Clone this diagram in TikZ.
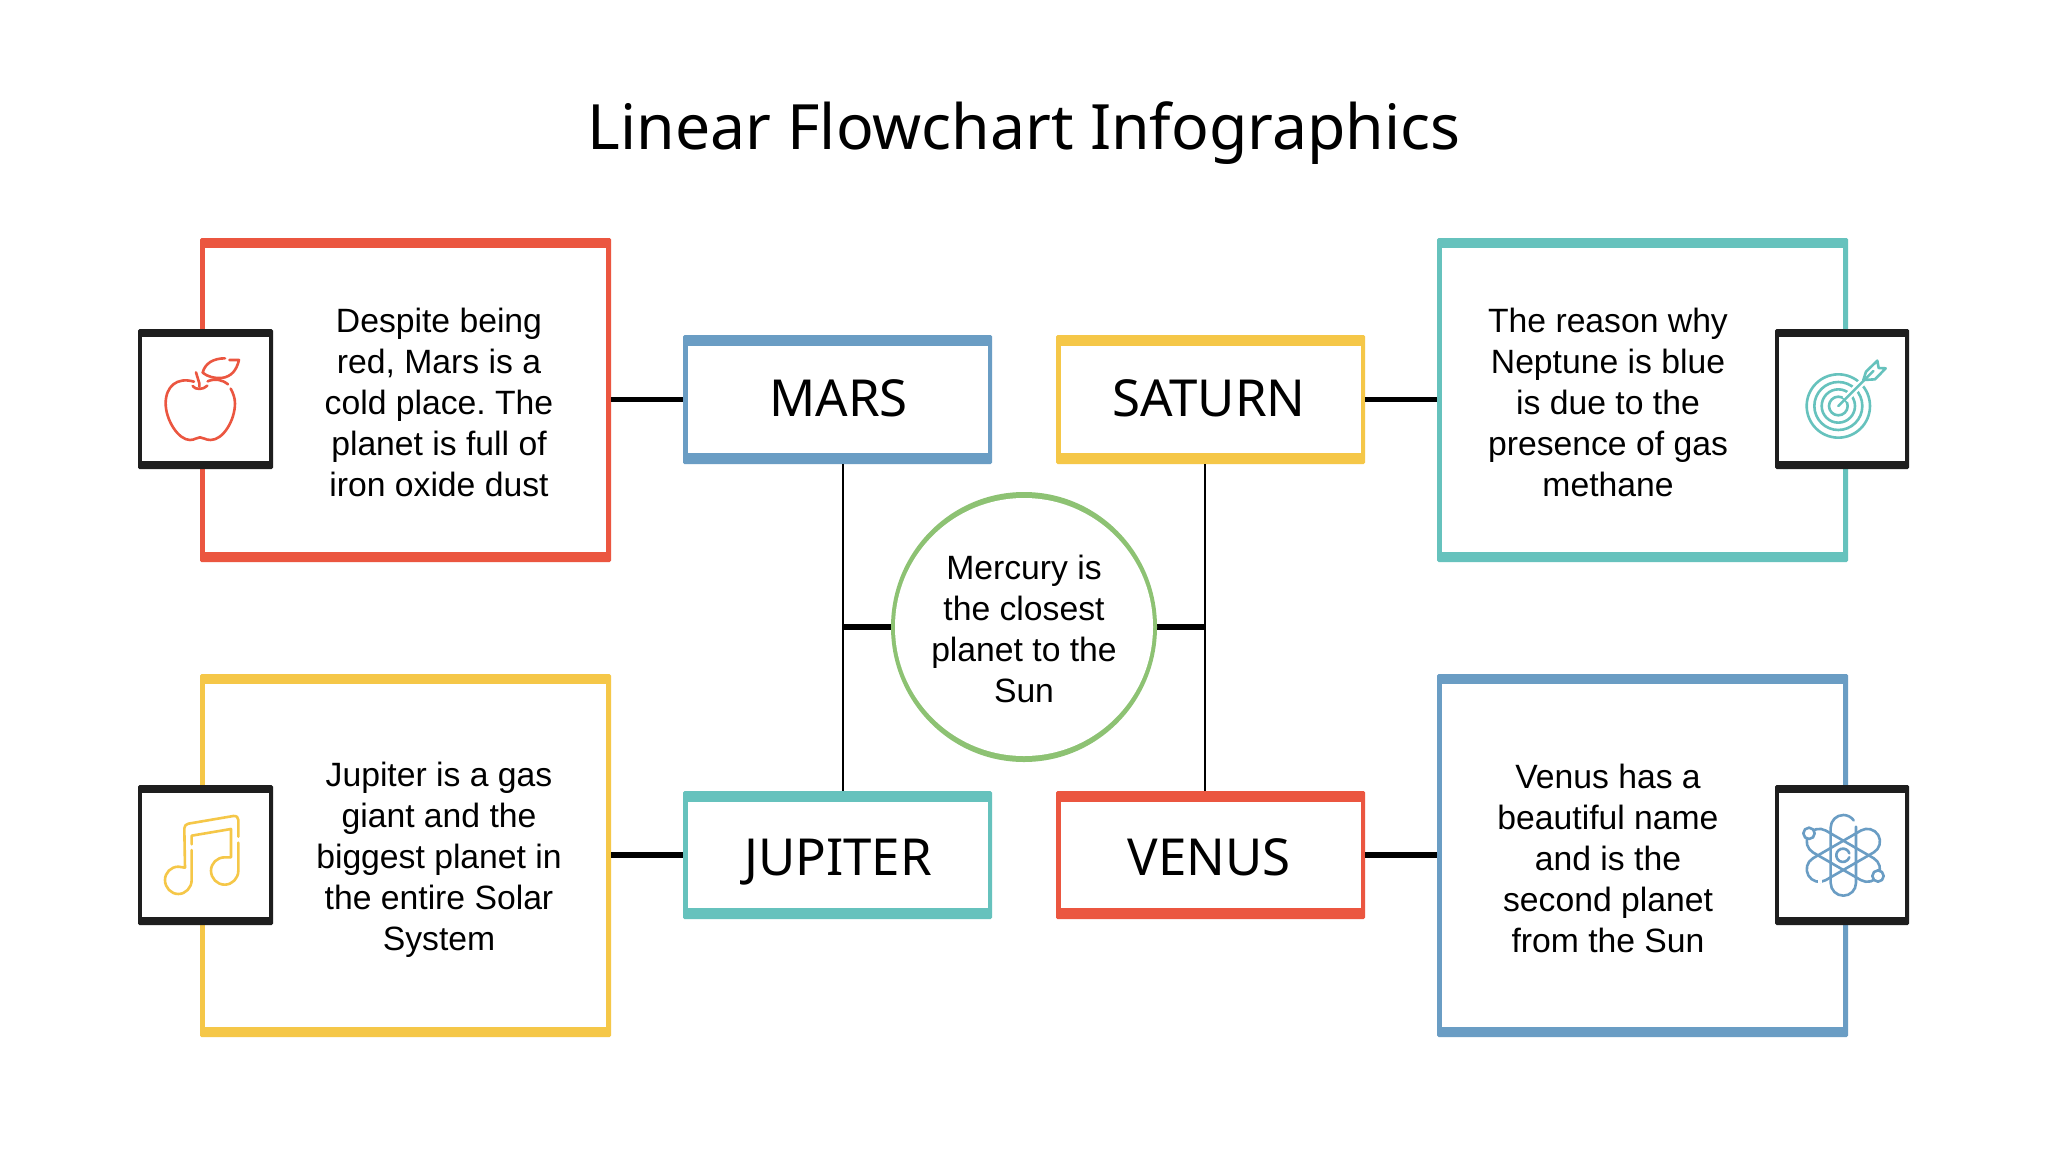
\documentclass[tikz,border=0pt]{standalone}
\usepackage{fontspec}
\setmainfont{Liberation Sans}
\newfontfamily\headfont{Noto Sans}
\definecolor{cred}{HTML}{EB5640}
\definecolor{cblue}{HTML}{6A9DC4}
\definecolor{cyellow}{HTML}{F5C748}
\definecolor{cteal}{HTML}{66C2BD}
\definecolor{cgreen}{HTML}{8DC273}
\definecolor{cdark}{HTML}{1E1E1E}
% name, x0, y0, x1, y1, colour, side thickness, top thickness
\newcommand{\frbox}[8]{%
  \fill[#6,rounded corners=1.5pt] (#2,#3) rectangle (#4,#5);
  \fill[white] (#2+#7,#3+#8) rectangle (#4-#7,#5-#8);
  \node[boxanchor,minimum width=#4pt-#2pt,minimum height=#5pt-#3pt] (#1) at ({(#2+#4)/2},{(#3+#5)/2}) {};
}
\tikzset{
  boxanchor/.style={inner sep=0pt,outer sep=0pt,draw=none},
  body/.style={align=center,font=\frenchspacing\fontsize{33.7}{41}\selectfont,text=black,inner sep=0pt},
  label/.style={font=\headfont\fontsize{51}{60}\selectfont,text=black,inner sep=0pt,anchor=base},
  thin link/.style={line width=2.5pt,black},
  thick link/.style={line width=5.5pt,black},
  icon/.style={line width=2.6pt,line cap=round,line join=round},
  zoomed/.style={x=0.3333pt,y=-0.3333pt},
}
\begin{document}
\begin{tikzpicture}[x=1pt,y=-1pt]
\useasboundingbox (0,0) rectangle (2048,1152);
\fill[white] (0,0) rectangle (2048,1152);
\node[font=\headfont\fontsize{62.5}{74}\selectfont,inner sep=0pt] (title) at (1024,133) {Linear Flowchart Infographics};

\frbox{bigmars}{200}{238}{611}{562}{cred}{5}{10}
\frbox{bigsaturn}{1437}{238}{1848}{562}{cteal}{5}{10}
\frbox{bigjupiter}{200}{674}{611}{1037}{cyellow}{5}{10}
\frbox{bigvenus}{1437}{674}{1848}{1037}{cblue}{5}{10}

\frbox{mars}{683}{335}{992}{464}{cblue}{4.5}{11}
\frbox{saturn}{1056}{335}{1365}{464}{cyellow}{4.5}{11}
\frbox{jupiter}{683}{791}{992}{919}{cteal}{4.5}{11}
\frbox{venus}{1056}{791}{1365}{919}{cred}{4.5}{11}

\frbox{iconmars}{138}{329}{273}{469}{cdark}{4}{8}
\frbox{iconsaturn}{1775}{329}{1909}{469}{cdark}{4}{8}
\frbox{iconjupiter}{138}{785}{273}{925}{cdark}{4}{8}
\frbox{iconvenus}{1775}{785}{1909}{925}{cdark}{4}{8}

\coordinate (leftbus) at (843,627);
\coordinate (rightbus) at (1205,627);
\node[circle,minimum size=258pt,inner sep=0pt,outer sep=0pt] (mercury) at (1024,627) {};
\draw[thin link] (leftbus |- mars.south) -- (leftbus |- jupiter.north);
\draw[thin link] (rightbus |- saturn.south) -- (rightbus |- venus.north);
\draw[thick link] (leftbus) -- (mercury.west);
\draw[thick link] (mercury.east) -- (rightbus);
\draw[thick link] (bigmars.east |- mars.west) -- (mars.west);
\draw[thick link] (saturn.east) -- (bigsaturn.west |- saturn.east);
\draw[thick link] (bigjupiter.east |- jupiter.west) -- (jupiter.west);
\draw[thick link] (venus.east) -- (bigvenus.west |- venus.east);
\fill[cgreen] (1024,627) ellipse [x radius=133,y radius=135];
\fill[white] (mercury.center) circle (129);

\node[label] (lmars) at (838.5,416.7) {MARS};
\node[label] (lsaturn) at (1209,416.7) {SATURN};
\node[label] (ljupiter) at (838,875) {JUPITER};
\node[label] (lvenus) at (1209,875) {VENUS};

\node[body] (tmars) at (439,402) {Despite being\\red, Mars is a\\cold place. The\\planet is full of\\iron oxide dust};
\node[body] (tsaturn) at (1608,402) {The reason why\\Neptune is blue\\is due to the\\presence of gas\\methane};
\node[body] (tjupiter) at (439,859.5) {Jupiter is a gas\\giant and the\\biggest planet in\\the entire Solar\\System};
\node[body] (tvenus) at (1608,858) {Venus has a\\beautiful name\\and is the\\second planet\\from the Sun};
\node[body] (tmercury) at (1024,629) {Mercury is\\the closest\\planet to the\\Sun};

% apple
\begin{scope}[shift={(120,220)},zoomed]
\draw[icon,cred] (222,485) .. controls (170,470) and (137,500) .. (137,550) .. controls (137,600) and (175,660) .. (210,660) .. controls (225,660) and (230,652) .. (240,652) .. controls (250,652) and (255,660) .. (272,660) .. controls (310,660) and (345,600) .. (345,550) .. controls (345,535) and (340,520) .. (332,506);
\draw[icon,cred] (324,493) .. controls (305,478) and (285,475) .. (263,484);
\draw[icon,cred] (228,457) -- (238,490) -- (238,500);
\draw[icon,cred] (218,498) .. controls (225,510) and (250,510) .. (262,497);
\draw[icon,cred] (248,458) .. controls (255,430) and (280,415) .. (315,415);
\draw[icon,cred] (328,420) -- (357,420) .. controls (350,450) and (335,470) .. (305,474) .. controls (285,476) and (262,470) .. (248,458);
\end{scope}
% target
\begin{scope}[shift={(1760,320)},zoomed]
\draw[icon,cteal] (235,258) circle (95);
\draw[icon,cteal] (235,258) circle (72);
\draw[icon,cteal] (235,258) circle (50);
\draw[icon,cteal] (235,258) circle (28);
\draw[line width=7pt,white] (255,238) -- (320,173);
\draw[icon,cteal] (235,258) -- (340,153);
\draw[icon,cteal] (310,180) -- (318,155) -- (352,122) -- (356,144) -- (377,145) -- (345,178) -- cycle;
\end{scope}
% notes
\begin{scope}[shift={(130,780)},zoomed]
\draw[icon,cyellow] (165,263) -- (163,145) .. controls (163,138) and (168,132) .. (175,131) -- (310,108) .. controls (320,107) and (325,112) .. (325,120) -- (325,170);
\draw[icon,cyellow] (325,188) -- (325,272) .. controls (325,295) and (307,314) .. (284,314) .. controls (261,314) and (243,295) .. (243,272) .. controls (243,250) and (261,232) .. (284,232) -- (303,232) -- (303,147) -- (185,167) -- (185,193);
\draw[icon,cyellow] (185,210) -- (185,300) .. controls (185,323) and (167,342) .. (145,342) .. controls (123,342) and (105,323) .. (105,300) .. controls (105,278) and (123,260) .. (145,260) -- (165,263);
\end{scope}
% atom
\begin{scope}[shift={(1760,780)},zoomed]
\draw[icon,cblue] (288,140) -- (288,309) arc[start angle=0,end angle=180,radius=38] -- (212,143) arc[start angle=180,end angle=325,radius=38];
\begin{scope}[rotate around={60:(250,226)}]
\draw[icon,cblue] (288,143) -- (288,309) arc[start angle=0,end angle=180,radius=38] -- (212,143) arc[start angle=180,end angle=360,radius=38];
\end{scope}
\begin{scope}[rotate around={-60:(250,226)}]
\draw[icon,cblue] (288,143) -- (288,309) arc[start angle=0,end angle=180,radius=38] -- (212,143) arc[start angle=180,end angle=360,radius=38];
\end{scope}
\draw[line width=4pt,white] (174,303) -- (187,303);
\draw[icon,cblue,fill=white] (147,160) circle (17);
\draw[icon,cblue,fill=white] (354,288) circle (17);
\draw[icon,cblue] (268,220) arc[start angle=-17,end angle=-343,radius=20];
\end{scope}
\end{tikzpicture}
\end{document}
